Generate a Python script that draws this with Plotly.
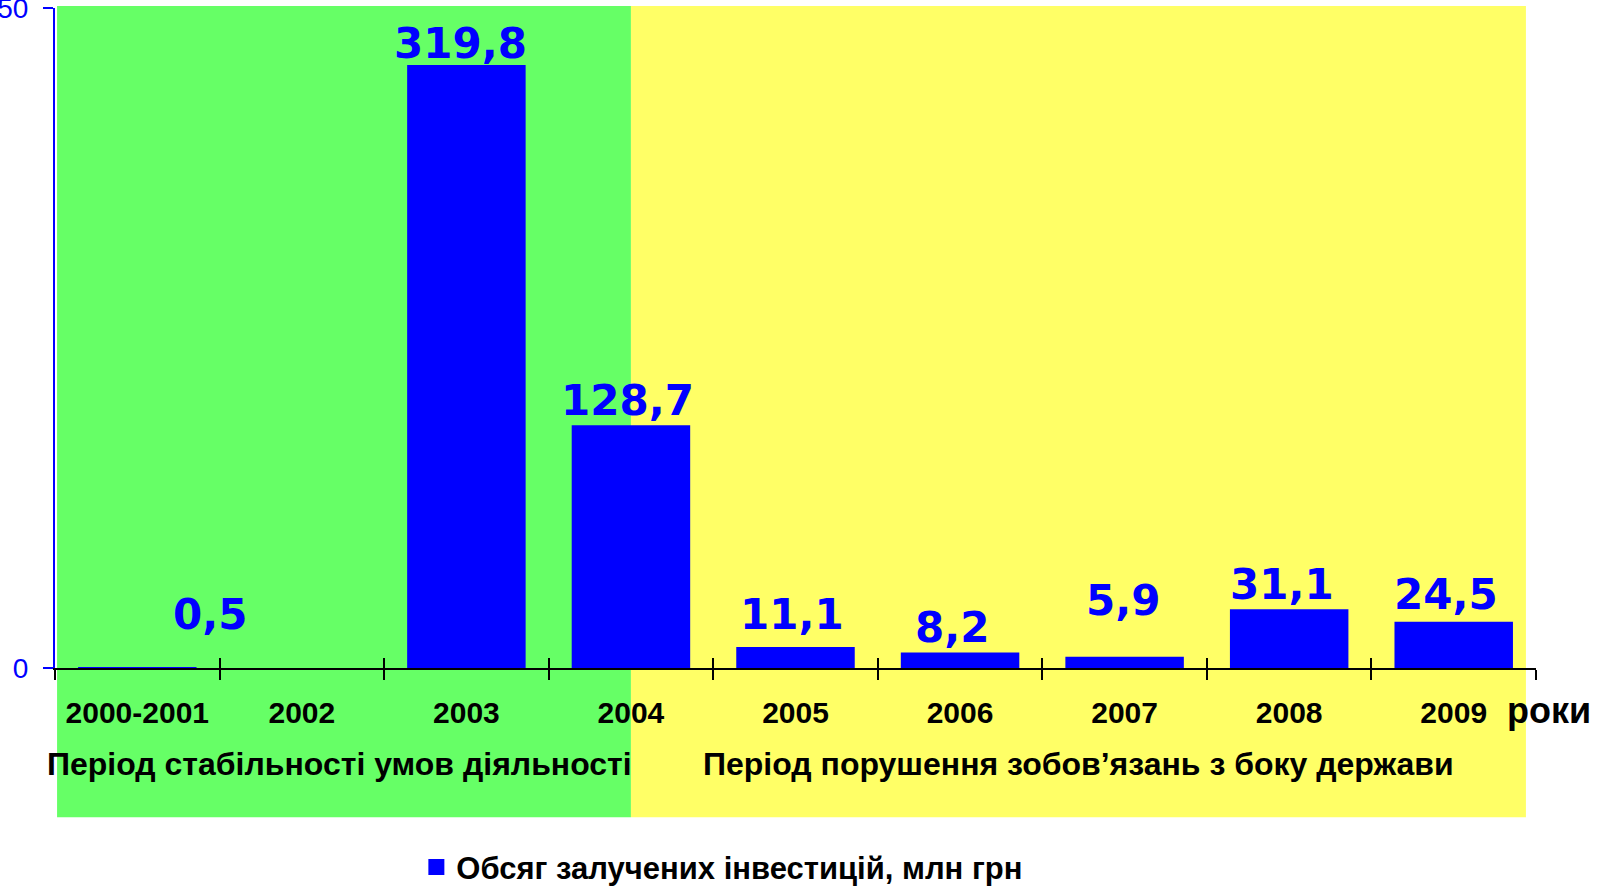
import plotly.graph_objects as go

# ---- data ----
categories = ["2000-2001", "2002", "2003", "2004", "2005", "2006", "2007", "2008", "2009"]
investments = [0.5, None, 319.8, 128.7, 11.1, 8.2, 5.9, 31.1, 24.5]
y_tick_values = [0, 350]
series_name = "Обсяг залучених інвестицій, млн грн"
period_labels = ["Період стабільності умов діяльності",
                 "Період порушення зобов’язань з боку держави"]
axis_unit = "роки"

# label placement tweaks (pixels)
label_dx = [73, 0, -6, -3, -4, -8, -2, -7, -8]
label_gap = [37, 0, 6, 9, 17, 10, 41, 9, 12]

BLUE = "#0000FF"
GREEN = "#66FF66"
YELLOW = "#FFFF66"
ARIAL = "Liberation Sans, Arial, sans-serif"

n = len(categories)

fig = go.Figure()
fig.add_trace(go.Bar(
    x=categories, y=investments, name=series_name,
    marker=dict(color=BLUE, line=dict(width=0)),
    xaxis="x", yaxis="y", showlegend=False,
))
# legend entry with a larger square swatch
fig.add_trace(go.Scatter(
    x=[None], y=[None], mode="markers", name=series_name,
    marker=dict(symbol="square", size=21, color=BLUE, line=dict(width=0)),
    xaxis="x", yaxis="y", showlegend=True,
))
# overlay axis used only to draw the inner half of the crossing ticks
fig.add_trace(go.Scatter(x=[], y=[], xaxis="x2", yaxis="y", showlegend=False))

annotations = []
for i, v in enumerate(investments):
    if v is None:
        continue
    annotations.append(dict(
        x=i, y=v, xref="x", yref="y",
        text=f"{v:.1f}".replace(".", ","),
        showarrow=False, yanchor="bottom", xanchor="center",
        xshift=label_dx[i], yshift=label_gap[i] - 11,
        font=dict(family="DejaVu Sans", size=42, color=BLUE, weight="bold"),
    ))

# period captions (centered under their background blocks)
annotations.append(dict(x=0.1918, y=-0.1455, xref="paper", yref="paper",
                        text=period_labels[0], showarrow=False,
                        xanchor="center", yanchor="middle",
                        font=dict(family=ARIAL, size=32, color="black", weight="bold")))
annotations.append(dict(x=0.6914, y=-0.1455, xref="paper", yref="paper",
                        text=period_labels[1], showarrow=False,
                        xanchor="center", yanchor="middle",
                        font=dict(family=ARIAL, size=32, color="black", weight="bold")))
annotations.append(dict(x=0.979, y=-0.065, xref="paper", yref="paper",
                        text=axis_unit, showarrow=False,
                        xanchor="left", yanchor="middle",
                        font=dict(family=ARIAL, size=36, color="black", weight="bold")))

split = 3.5 / n  # middle of the 2004 category in paper units
shapes = [
    dict(type="rect", xref="paper", yref="paper", x0=0.0014, x1=split,
         y0=-0.226, y1=1.003, fillcolor=GREEN, line=dict(width=0), layer="below"),
    dict(type="rect", xref="paper", yref="paper", x0=split, x1=0.9932,
         y0=-0.226, y1=1.003, fillcolor=YELLOW, line=dict(width=0), layer="below"),
]

fig.update_layout(
    width=1608, height=889,
    margin=dict(l=55, r=72, t=8, b=221, autoexpand=False),
    paper_bgcolor="white", plot_bgcolor="rgba(0,0,0,0)",
    bargap=0.28,
    showlegend=True,
    legend=dict(orientation="h", x=0.244, xanchor="left", y=-0.302, yanchor="middle",
                font=dict(family=ARIAL, size=31, color="black", weight="bold"),
                bgcolor="rgba(0,0,0,0)"),
    xaxis=dict(type="category", categoryorder="array", categoryarray=categories,
               range=[-0.5, n - 0.5], showgrid=False, zeroline=False, automargin=False,
               showline=True, linecolor="black", linewidth=2,
               ticks="outside", ticklen=10, tickwidth=2, tickcolor="black",
               tickson="boundaries", ticklabelstandoff=17,
               tickfont=dict(family=ARIAL, size=30, color="black", weight="bold")),
    xaxis2=dict(overlaying="x", anchor="y", range=[-0.5, n - 0.5], automargin=False,
                tickvals=[i - 0.5 for i in range(n + 1)],
                ticks="inside", ticklen=10, tickwidth=2, tickcolor="black",
                showticklabels=False, showgrid=False, zeroline=False, showline=False),
    yaxis=dict(range=[0, 350], tickvals=y_tick_values, showgrid=False, zeroline=False,
               automargin=False,
               showline=True, linecolor=BLUE, linewidth=2,
               ticks="outside", ticklen=10, tickwidth=2, tickcolor=BLUE,
               ticklabelstandoff=9, ticklabeloverflow="allow",
               tickfont=dict(family=ARIAL, size=28, color=BLUE)),
    annotations=annotations,
    shapes=shapes,
)

fig.write_html("out.html", config={"displayModeBar": False},
               post_script="document.body.style.margin='0';document.body.style.overflow='hidden';")
